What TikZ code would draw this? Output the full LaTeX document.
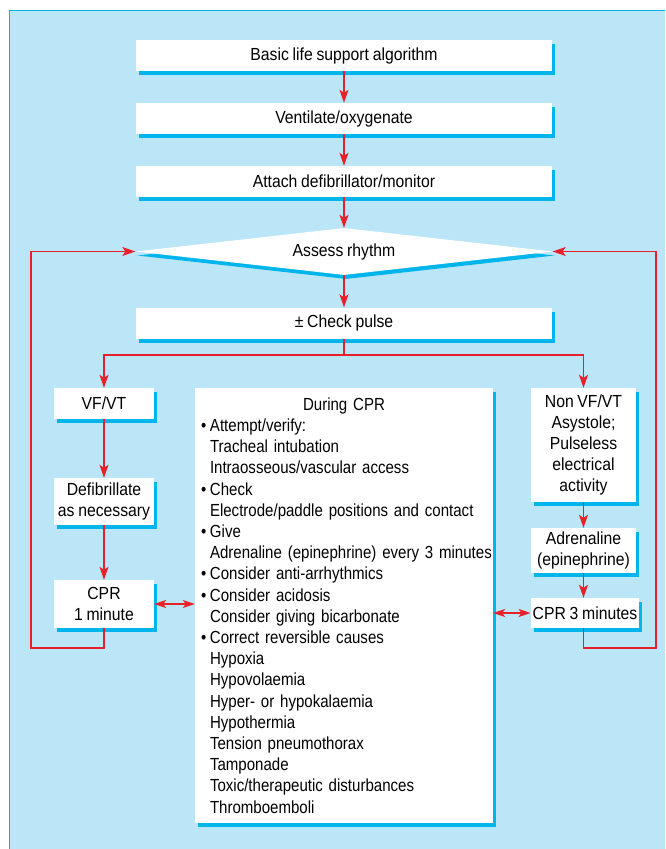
\documentclass[tikz,border=0pt]{standalone}
\usepackage{fontspec}
\setmainfont[FakeStretch=0.9, WordSpace=0.85]{Liberation Sans}
\newfontfamily\cprfont[FakeStretch=0.86, WordSpace=0.85]{Liberation Sans}
\usepackage{tikz}
\usetikzlibrary{arrows.meta, positioning, shapes.geometric, shadows}
\definecolor{panelblue}{HTML}{BAE6F8}
\definecolor{cyanshade}{HTML}{00B5EC}
\definecolor{arrowred}{HTML}{E8202A}
\newcommand{\cprbul}{\makebox[9pt][l]{\textbullet}}
\newcommand{\cprind}{\hspace*{9pt}}

\begin{document}
\begin{tikzpicture}[
    x=1pt, y=-1pt,
    every node/.style={font=\fontsize{17.5}{21.2}\selectfont},
    stepbox/.style={rectangle, fill=white, inner sep=2pt, align=center, minimum height=31pt,
        drop shadow={shadow xshift=3pt, shadow yshift=-4pt, fill=cyanshade, opacity=1}},
    wide/.style={stepbox, minimum width=416pt},
    side/.style={stepbox, minimum width=100pt},
    decide/.style={diamond, aspect=9, fill=white, inner sep=0pt, minimum width=417pt, minimum height=47pt,
        drop shadow={shadow xshift=2pt, shadow yshift=-4pt, fill=cyanshade, opacity=1}},
    flow/.style={-{Stealth[length=13pt, width=9pt, inset=3pt]}, line width=1.3pt, color=arrowred},
    dflow/.style={{Stealth[length=12pt, width=8pt, inset=3pt]}-{Stealth[length=12pt, width=8pt, inset=3pt]}, line width=1.3pt, color=arrowred}
]
\useasboundingbox (0,0) rectangle (665,849);
% Panel
\fill[panelblue] (9,10) rectangle (665,849);
\draw[cyanshade, line width=1pt] (9.5,849) -- (9.5,10.5) -- (665,10.5);

% Main column
\node[wide] (bls)    at (344,55.5)  {Basic life support algorithm};
\node[wide] (vent)   at (344,118.5) {Ventilate/oxygenate};
\node[wide] (attach) at (344,181.5) {Attach defibrillator/monitor};
\node[decide] (rhythm) at (344,251.5) {Assess rhythm};
\node[wide] (pulse)  at (344,323)   {± Check pulse};

% VF/VT branch
\node[side] (vf)    at (104,403.5) {VF/VT};
\node[side, minimum height=47pt] (shock) at (104,501.5) {Defibrillate\\as necessary};
\node[side, minimum height=48pt] (cpr1)  at (104,604)   {CPR\\1 minute};

% Non VF/VT branch
\node[stepbox, minimum width=105pt, minimum height=114pt] (nonvf) at (583.5,445) {Non VF/VT\\Asystole;\\Pulseless\\electrical\\activity};
\node[stepbox, minimum width=105pt, minimum height=45pt] (adr) at (583.5,550.5) {Adrenaline\\(epinephrine)};
\node[stepbox, minimum width=108pt, minimum height=30pt] (cpr3) at (585,613) {CPR 3 minutes};

% During CPR
\node[stepbox, font=\cprfont\fontsize{17.5}{21.2}\selectfont, text width=286pt, align=left, inner xsep=6pt, inner ysep=8pt, minimum height=435pt] (during) at (344,605.5) {%
\makebox[\linewidth][c]{During CPR}\\
\cprbul Attempt/verify:\\
\cprind Tracheal intubation\\
\cprind Intraosseous/vascular access\\
\cprbul Check\\
\cprind Electrode/paddle positions and contact\\
\cprbul Give\\
\cprind \mbox{Adrenaline (epinephrine) every 3 minutes}\\
\cprbul Consider anti-arrhythmics\\
\cprbul Consider acidosis\\
\cprind Consider giving bicarbonate\\
\cprbul Correct reversible causes\\
\cprind Hypoxia\\
\cprind Hypovolaemia\\
\cprind Hyper- or hypokalaemia\\
\cprind Hypothermia\\
\cprind Tension pneumothorax\\
\cprind Tamponade\\
\cprind Toxic/therapeutic disturbances\\
\cprind Thromboemboli};

\coordinate (split) at (344,355);
\coordinate (lloop) at (31,648);
\coordinate (rloop) at (656,648);

% Flows
\draw[flow] (bls) -- (vent);
\draw[flow] (vent) -- (attach);
\draw[flow] (attach) -- (rhythm.north);
\draw[flow] (rhythm.south) -- (pulse);
\draw[flow] (pulse) -- (split) -| (vf);
\draw[flow] (split) -| (nonvf);
\draw[flow] (vf) -- (shock);
\draw[flow] (shock) -- (cpr1);
\draw[flow] (nonvf) -- (adr);
\draw[flow] (adr) -- (adr |- cpr3.north);
\draw[dflow] (cpr1.east) -- (cpr1.east -| during.west);
\draw[dflow] (cpr3.west) -- (cpr3.west -| during.east);

% Loops back to rhythm
\draw[flow] (cpr1.south) |- (lloop) |- (rhythm.west);
\draw[flow] (adr |- cpr3.south) |- (rloop) |- (rhythm.east);
\end{tikzpicture}
\end{document}
